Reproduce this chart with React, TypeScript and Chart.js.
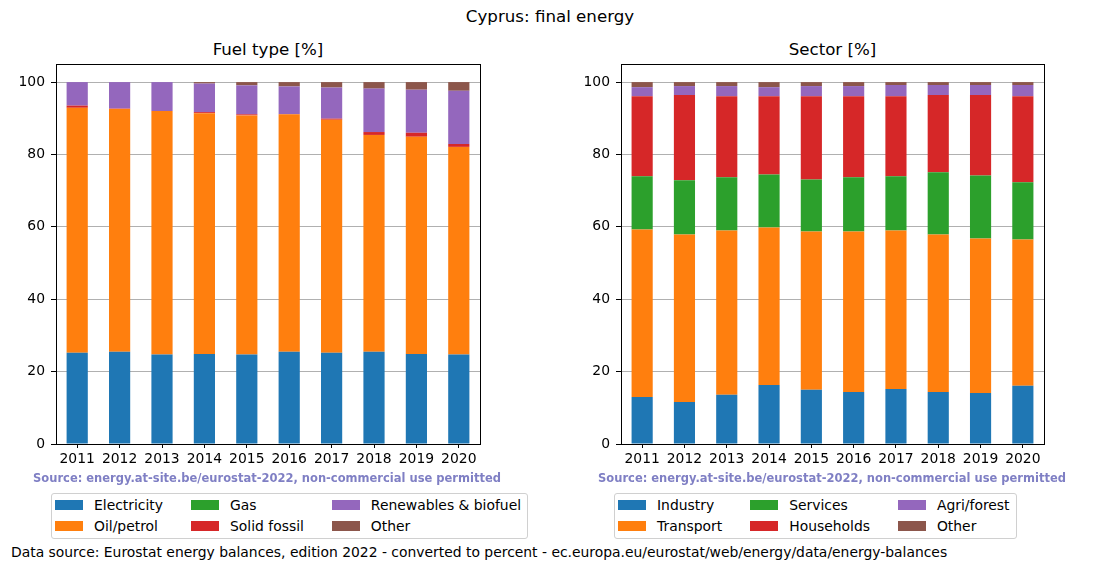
import React, { useEffect, useRef } from "react";
import { Chart, registerables } from "chart.js";

Chart.register(...registerables);

const years = ["2011", "2012", "2013", "2014", "2015", "2016", "2017", "2018", "2019", "2020"];
const yTicks = [0, 20, 40, 60, 80, 100];

// Fuel type [%]
const fuelElectricity = [25.2, 25.5, 24.7, 24.9, 24.7, 25.5, 25.2, 25.5, 24.9, 24.7];
const fuelOil = [67.7, 67.1, 67.3, 66.5, 66.1, 65.6, 64.4, 59.9, 60.0, 57.4];
const fuelGas = [0, 0, 0, 0, 0, 0, 0, 0, 0, 0];
const fuelSolid = [0.6, 0.1, 0, 0.3, 0.3, 0.0, 0.3, 0.8, 1.1, 0.8];
const fuelRenewables = [6.5, 7.3, 8.0, 7.9, 8.0, 7.7, 8.6, 12.0, 11.9, 14.7];
const fuelOther = [0, 0, 0, 0.4, 0.9, 1.2, 1.5, 1.8, 2.1, 2.4];

// Sector [%]
const secIndustry = [13.0, 11.6, 13.6, 16.3, 15.0, 14.4, 15.2, 14.4, 14.1, 16.1];
const secTransport = [46.3, 46.3, 45.4, 43.5, 43.7, 44.3, 43.8, 43.5, 42.7, 40.4];
const secServices = [14.7, 15.0, 14.7, 14.7, 14.4, 15.0, 15.0, 17.2, 17.4, 15.8];
const secHouseholds = [22.1, 23.5, 22.4, 21.6, 23.0, 22.4, 22.1, 21.3, 22.2, 23.8];
const secAgri = [2.5, 2.5, 2.8, 2.5, 2.8, 2.8, 3.1, 2.8, 2.8, 3.1];
const secOther = [1.4, 1.1, 1.1, 1.4, 1.1, 1.1, 0.8, 0.8, 0.8, 0.8];

const C = ["#1f77b4", "#ff7f0e", "#2ca02c", "#d62728", "#9467bd", "#8c564b"];
const FONT = "'DejaVu Sans', sans-serif";

const fuelSeries = [
  { label: "Electricity", data: fuelElectricity },
  { label: "Oil/petrol", data: fuelOil },
  { label: "Gas", data: fuelGas },
  { label: "Solid fossil", data: fuelSolid },
  { label: "Renewables & biofuel", data: fuelRenewables },
  { label: "Other", data: fuelOther },
];
const sectorSeries = [
  { label: "Industry", data: secIndustry },
  { label: "Transport", data: secTransport },
  { label: "Services", data: secServices },
  { label: "Households", data: secHouseholds },
  { label: "Agri/forest", data: secAgri },
  { label: "Other", data: secOther },
];

const spinePlugin = {
  id: "spines",
  afterDraw(chart: any) {
    const { ctx, chartArea } = chart;
    ctx.save();
    ctx.strokeStyle = "#000";
    ctx.lineWidth = 1;
    const l = Math.round(chartArea.left) + 0.5;
    const r = Math.round(chartArea.right) + 0.5;
    const t = Math.round(chartArea.top) + 0.5;
    const b = Math.round(chartArea.bottom) + 0.5;
    ctx.strokeRect(l, t, r - l, b - t);
    ctx.restore();
  },
};

function BarChart({ series, padRight }: { series: { label: string; data: number[] }[]; padRight: number }) {
  const ref = useRef<HTMLCanvasElement>(null);
  useEffect(() => {
    const chart = new Chart(ref.current!, {
      type: "bar",
      data: {
        labels: years,
        datasets: series.map((s, i) => ({
          label: s.label,
          data: s.data,
          backgroundColor: C[i],
          borderWidth: 0,
          barPercentage: 0.5,
          categoryPercentage: 1,
        })),
      },
      options: {
        animation: false,
        responsive: false,
        devicePixelRatio: 1,
        layout: { padding: { left: 0, right: padRight, top: 4, bottom: 0 } },
        plugins: { legend: { display: false }, tooltip: { enabled: false }, title: { display: false } },
        scales: {
          x: {
            stacked: true,
            offset: true,
            border: { display: false },
            grid: { display: true, drawOnChartArea: false, drawTicks: true, tickLength: 4, tickColor: "#000", offset: false },
            ticks: { color: "#000", font: { family: FONT, size: 13.9 }, padding: 3, maxRotation: 0, autoSkip: false },
            afterFit: (s: any) => { s.height = 36; s.paddingLeft = 0; s.paddingRight = 0; },
          },
          y: {
            stacked: true,
            min: 0,
            max: 105,
            border: { display: false },
            grid: { color: "#b0b0b0", lineWidth: 1, tickLength: 5, tickColor: "#000" },
            ticks: { color: "#000", font: { family: FONT, size: 13.9 }, padding: 6, stepSize: 20 },
            afterBuildTicks: (s: any) => {
              s.ticks = yTicks.map((v) => ({ value: v }));
            },
            afterFit: (s: any) => { s.width = 56; s.paddingTop = 0; s.paddingBottom = 0; },
          },
        },
      },
      plugins: [spinePlugin],
    } as any);
    return () => chart.destroy();
  }, []);
  return <canvas ref={ref} width={520} height={420} style={{ width: 520, height: 420, display: "block" }} />;
}

function Legend({ series, left }: { series: { label: string }[]; left: number }) {
  const cols = [0, 1, 2].map((c) => [series[c * 2], series[c * 2 + 1]].map((s, k) => ({ s, color: C[c * 2 + k] })));
  return (
    <div
      style={{
        position: "absolute",
        left,
        top: 493,
        height: 46,
        boxSizing: "border-box",
        border: "1px solid #d0d0d0",
        borderRadius: 3,
        padding: "0 6px 0 3px",
        display: "flex",
        background: "#fff",
        fontFamily: FONT,
        fontSize: 13.9,
      }}
    >
      {cols.map((col, ci) => (
        <div key={ci} style={{ marginLeft: ci === 0 ? 0 : 28 }}>
          {col.map(({ s, color }) => (
            <div key={s.label} style={{ height: 21, display: "flex", alignItems: "center", whiteSpace: "nowrap" }}>
              <span style={{ display: "inline-block", width: 28, height: 10, background: color, marginRight: 11 }} />
              <span>{s.label}</span>
            </div>
          ))}
        </div>
      ))}
    </div>
  );
}

function Text({ x, y, children, size, bold, color, center }: any) {
  return (
    <div
      style={{
        position: "absolute",
        left: x,
        top: y - size,
        height: size * 2,
        lineHeight: `${size * 2}px`,
        transform: center ? "translateX(-50%)" : undefined,
        whiteSpace: "nowrap",
        fontFamily: FONT,
        fontSize: size,
        fontWeight: bold ? "bold" : "normal",
        color: color || "#000",
      }}
    >
      {children}
    </div>
  );
}

export default function App() {
  return (
    <div style={{ position: "absolute", left: 0, top: 0, width: 1100, height: 572, background: "#fff", overflow: "hidden" }}>
      <Text x={550} y={17} size={16.67} center>Cyprus: final energy</Text>
      <Text x={268} y={50} size={16.67} center>Fuel type [%]</Text>
      <Text x={832.5} y={50} size={16.67} center>Sector [%]</Text>
      <div style={{ position: "absolute", left: 0, top: 60 }}>
        <BarChart series={fuelSeries} padRight={40} />
      </div>
      <div style={{ position: "absolute", left: 565, top: 60 }}>
        <BarChart series={sectorSeries} padRight={41} />
      </div>
      <Text x={267} y={478} size={11.5} bold color="#7f7fc4" center>Source: energy.at-site.be/eurostat-2022, non-commercial use permitted</Text>
      <Text x={832} y={478} size={11.5} bold color="#7f7fc4" center>Source: energy.at-site.be/eurostat-2022, non-commercial use permitted</Text>
      <Legend series={fuelSeries} left={51} />
      <Legend series={sectorSeries} left={614} />
      <Text x={11} y={553} size={13.9}>Data source: Eurostat energy balances, edition 2022 - converted to percent - ec.europa.eu/eurostat/web/energy/data/energy-balances</Text>
    </div>
  );
}
